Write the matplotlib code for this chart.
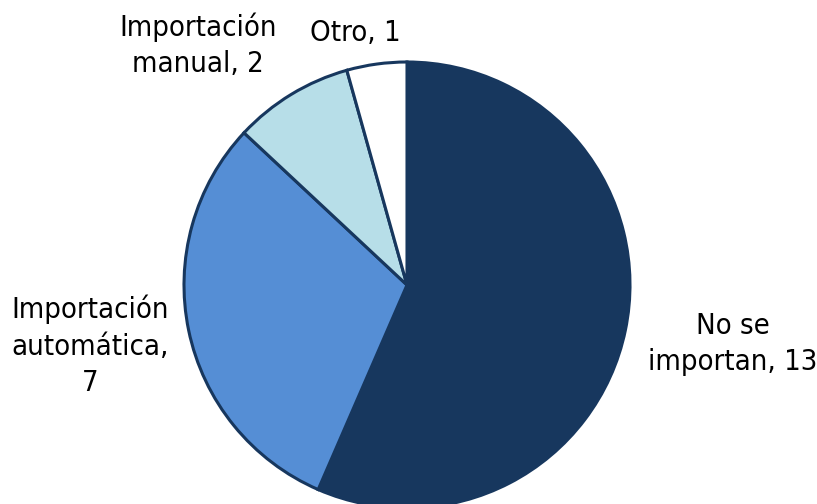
import matplotlib
matplotlib.use("Agg")
import matplotlib.pyplot as plt

categories = ["No se importan", "Importación automática", "Importación manual", "Otro"]
values = [13, 7, 2, 1]
label_texts = ["No se\nimportan, 13", "Importación\nautomática,\n7", "Importación\nmanual, 2", "Otro, 1"]
colors = ["#17375e", "#558ed5", "#b7dee8", "#ffffff"]

W, H = 817, 504
fig = plt.figure(figsize=(W / 100, H / 100), dpi=100)
ax = fig.add_axes([0, 0, 1, 1])

ax.pie(values, colors=colors, startangle=90, counterclock=False,
       center=(407, H - 285), radius=223,
       wedgeprops=dict(edgecolor="#17375e", linewidth=2.2), frame=True)
ax.set_xlim(0, W)
ax.set_ylim(0, H)
ax.set_aspect("equal")
ax.axis("off")

label_pos = [(733, H - 344), (90, H - 346), (198, H - 45), (355, H - 33)]
for txt, (x, y) in zip(label_texts, label_pos):
    ax.text(x, y, txt, ha="center", va="center", fontsize=21,
            family="DejaVu Sans", fontstretch="condensed", linespacing=1.38)

fig.savefig("out.png", dpi=100)
